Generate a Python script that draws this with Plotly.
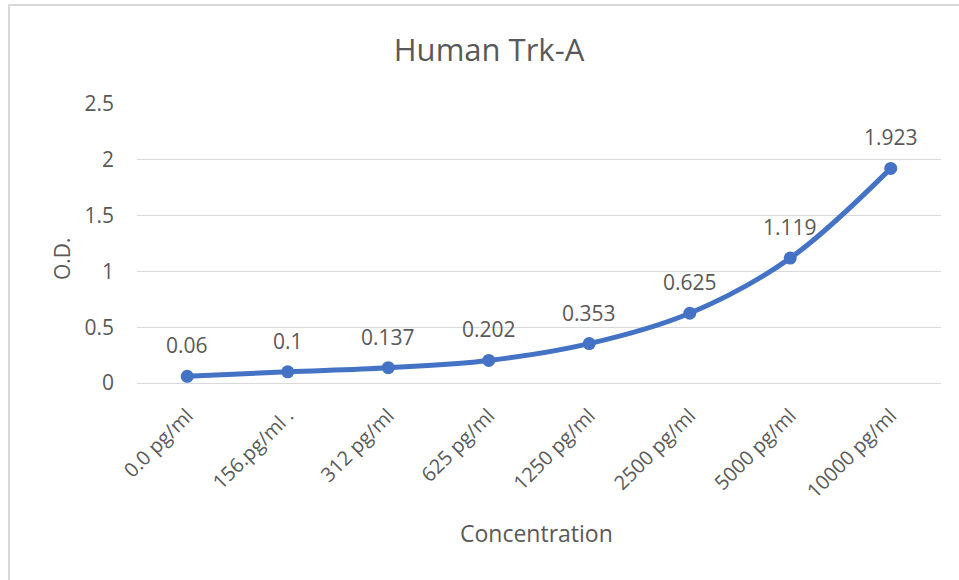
import plotly.graph_objects as go

categories = ["0.0 pg/ml", "156.pg/ml .", "312 pg/ml", "625 pg/ml",
              "1250 pg/ml", "2500 pg/ml", "5000 pg/ml", "10000 pg/ml"]
od_values = [0.06, 0.1, 0.137, 0.202, 0.353, 0.625, 1.119, 1.923]
value_labels = ["0.06", "0.1", "0.137", "0.202", "0.353", "0.625", "1.119", "1.923"]
y_ticks = [0, 0.5, 1, 1.5, 2, 2.5]
y_tick_labels = ["0", "0.5", "1", "1.5", "2", "2.5"]

FONT = "Open Sans"
GREY = "#595959"
BLUE = "#4472C4"

W, H = 959, 580

fig = go.Figure()
fig.add_trace(go.Scatter(
    x=categories, y=od_values, mode="lines+markers",
    line=dict(color=BLUE, width=5, shape="spline", smoothing=1),
    marker=dict(color=BLUE, size=13),
    hoverinfo="skip", showlegend=False,
))

for c, v, t in zip(categories, od_values, value_labels):
    fig.add_annotation(x=c, y=v, text=t, showarrow=False, yshift=31,
                       xanchor="center", yanchor="middle",
                       font=dict(family=FONT, size=21, color=GREY))

fig.add_annotation(xref="paper", yref="paper", x=-0.0933, y=0.448,
                   xanchor="center", yanchor="middle",
                   text="O.D.", textangle=-90, showarrow=False,
                   font=dict(family=FONT, size=21, color=GREY))
fig.add_annotation(xref="paper", yref="paper", x=0.4975, y=-0.538,
                   xanchor="center", yanchor="middle",
                   text="Concentration", showarrow=False,
                   font=dict(family=FONT, size=23, color=GREY))

fig.add_shape(type="rect", xref="paper", yref="paper",
              x0=-0.1592, x1=1.2, y0=-1.0, y1=1.3548,
              line=dict(color="#D9D9D9", width=2), layer="below")

fig.update_layout(
    width=W, height=H,
    margin=dict(l=137, r=18, t=104, b=197),
    paper_bgcolor="white", plot_bgcolor="white",
    title=dict(text="Human Trk-A", xref="container", yref="container",
               x=489 / W, y=1 - 50 / H, xanchor="center", yanchor="middle",
               font=dict(family=FONT, size=31, color=GREY)),
    font=dict(family=FONT, color=GREY),
)
fig.update_xaxes(
    tickangle=-45, tickfont=dict(family=FONT, size=20, color=GREY),
    showgrid=False, showline=False, ticks="", range=[-0.5, 7.5],
    ticklabelstandoff=16,
)
fig.update_yaxes(
    range=[0, 2.5], tickvals=y_ticks, ticktext=y_tick_labels,
    tickfont=dict(family=FONT, size=21, color=GREY),
    showgrid=True, gridcolor="#D9D9D9", gridwidth=1,
    zeroline=True, zerolinecolor="#D9D9D9", zerolinewidth=1,
    showline=False, ticks="", ticklabelstandoff=22,
)

fig.write_html("out.html",
               config={"displayModeBar": False},
               post_script="document.body.style.margin='0';document.body.style.overflow='hidden';")
